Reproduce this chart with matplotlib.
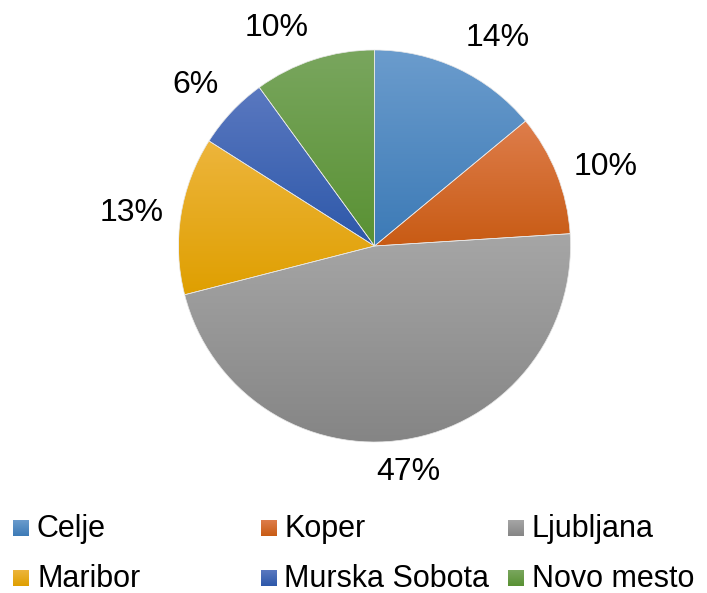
import numpy as np
import matplotlib.pyplot as plt
from matplotlib.colors import LinearSegmentedColormap

plt.rcParams['font.family'] = ['Liberation Sans', 'DejaVu Sans']

# podatki po regijah
cities = ['Celje', 'Koper', 'Ljubljana', 'Maribor', 'Murska Sobota', 'Novo mesto']
shares = [14, 10, 47, 13, 6, 10]
top_colors = ['#6b9ccd', '#de7d4b', '#a6a6a6', '#edb53c', '#5a78c0', '#79a65e']
bottom_colors = ['#3c7ab6', '#c85b14', '#858585', '#df9f00', '#2d58a9', '#599133']

W, H = 707, 593
fig = plt.figure(figsize=(W / 100, H / 100), dpi=100)
ax = fig.add_axes([0, 0, 1, 1])

cx, cy, r = 374.5, H - 246, 196
wedges, _ = ax.pie(shares, startangle=90, counterclock=False,
                   center=(cx, cy), radius=r,
                   wedgeprops=dict(edgecolor='#e8e8e8', linewidth=0.5))

ramp = np.linspace(0, 1, 256).reshape(-1, 1)

def gradient(c_bot, c_top):
    return LinearSegmentedColormap.from_list('g', [c_bot, c_top])

# vsak izsek dobi svoj navpični preliv
for w, ct, cb in zip(wedges, top_colors, bottom_colors):
    w.set_facecolor('none')
    ext = w.get_path().get_extents()
    im = ax.imshow(ramp, cmap=gradient(cb, ct), origin='lower', aspect='auto',
                   extent=[ext.x0, ext.x1, ext.y0, ext.y1], interpolation='bilinear',
                   zorder=0)
    im.set_clip_path(w)

# oznake odstotkov zunaj kroga
for w, s in zip(wedges, shares):
    a = np.deg2rad((w.theta1 + w.theta2) / 2)
    x = cx + 1.09 * r * np.cos(a)
    y = cy + 1.09 * r * np.sin(a)
    ha = 'left' if np.cos(a) > 0.2 else ('right' if np.cos(a) < -0.2 else 'center')
    va = 'bottom' if np.sin(a) > 0.5 else ('top' if np.sin(a) < -0.5 else 'center')
    ax.text(x, y, f'{s}%', ha=ha, va=va, fontsize=23, color='black')

# legenda v dveh vrsticah
square_y = [H - 528.5, H - 578]
base_y = [H - 537, H - 587]
for i, (name, ct, cb) in enumerate(zip(cities, top_colors, bottom_colors)):
    row, col = divmod(i, 3)
    x0 = 13 + col * 247.5
    ys = square_y[row]
    ax.imshow(ramp, cmap=gradient(cb, ct), origin='lower', aspect='auto',
              extent=[x0, x0 + 16, ys - 8, ys + 8], zorder=0)
    ax.text(x0 + 24, base_y[row], name, ha='left', va='baseline',
            fontsize=22, color='black')

ax.set_xlim(0, W)
ax.set_ylim(0, H)
ax.set_axis_off()

fig.savefig('out.png', dpi=100)
